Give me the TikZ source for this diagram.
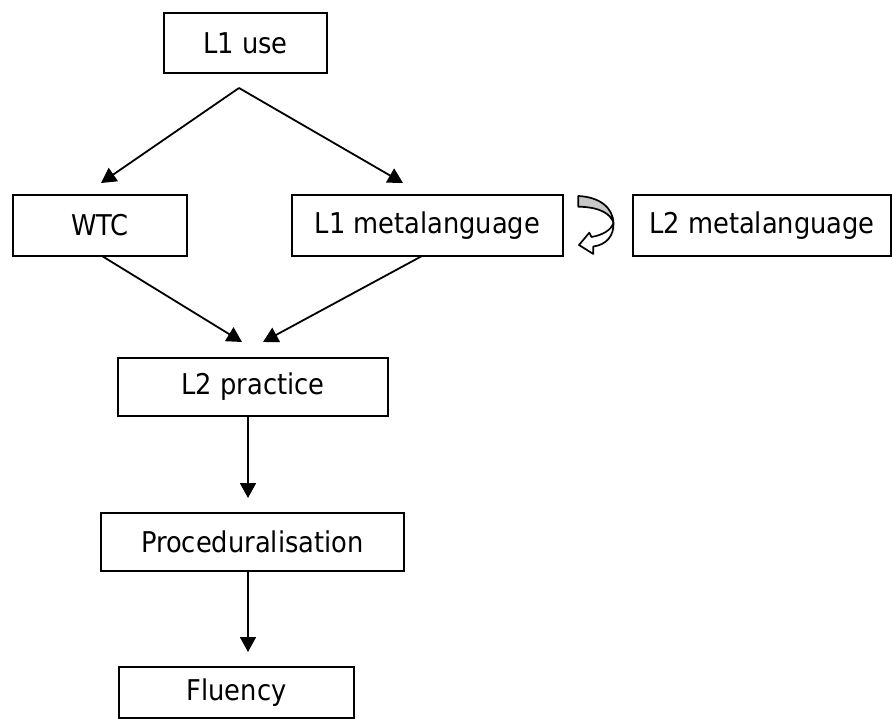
\documentclass[tikz,border=0pt]{standalone}
\usepackage{fontspec}
\setmainfont{DejaVu Sans Condensed}
\usetikzlibrary{arrows.meta}
\begin{document}
\begin{tikzpicture}[x=1pt,y=-1pt,
  box/.style={draw=black,line width=1.9pt,inner sep=0pt,font=\fontsize{28.6}{32}\selectfont},
  conn/.style={line width=1.8pt,-{Triangle[length=15pt,width=16pt]}}]
\useasboundingbox (0,0) rectangle (892,719);
\node[box,minimum width=163pt,minimum height=60pt] (l1use) at (245.5,43) {L1 use};
\node[box,minimum width=174pt,minimum height=61pt] (wtc) at (100,225.5) {WTC};
\node[box,minimum width=271pt,minimum height=61pt] (l1meta) at (427.5,225.5) {L1 metalanguage};
\node[box,minimum width=258pt,minimum height=61pt] (l2meta) at (762,225.5) {L2 metalanguage};
\node[box,minimum width=270pt,minimum height=58pt] (l2prac) at (253,387) {L2 practice};
\node[box,minimum width=303pt,minimum height=58pt] (proc) at (252.5,542) {Proceduralisation};
\node[box,minimum width=235pt,minimum height=51pt] (flu) at (236.5,692.5) {Fluency};
% free coordinates
\coordinate (apex) at (239,88);
\coordinate (tw) at (101,183);
\coordinate (tm) at (403,183);
\coordinate (wtcout) at (102,256);
\coordinate (metout) at (422,256);
\coordinate (tp1) at (242,342);
\coordinate (tp2) at (263,342);
\coordinate (pracout) at (248,416);
\coordinate (tproc) at (248,498);
\coordinate (procout) at (248,571);
\coordinate (tflu) at (248,652);
\draw[conn] (apex) -- (tw);
\draw[conn] (apex) -- (tm);
\draw[conn] (wtcout) -- (tp1);
\draw[conn] (metout) -- (tp2);
\draw[conn] (pracout) -- (tproc);
\draw[conn] (procout) -- (tflu);
% curved ribbon arrow between L1 and L2 metalanguage
\draw[line width=1.7pt,fill=black!22,line join=round]
  (578.3,196) .. controls (600,197) and (613,208) .. (613.5,223)
  .. controls (611,214) and (600,207) .. (578.3,206.7) -- cycle;
\draw[line width=1.7pt,fill=white,line join=round]
  (613.5,223) .. controls (614,236) and (606,245) .. (593.3,246.5)
  -- (593.3,254) -- (579,245) -- (589.3,232.7) -- (591.5,237)
  .. controls (603,235) and (611,230) .. (613.5,223) -- cycle;
\end{tikzpicture}
\end{document}
